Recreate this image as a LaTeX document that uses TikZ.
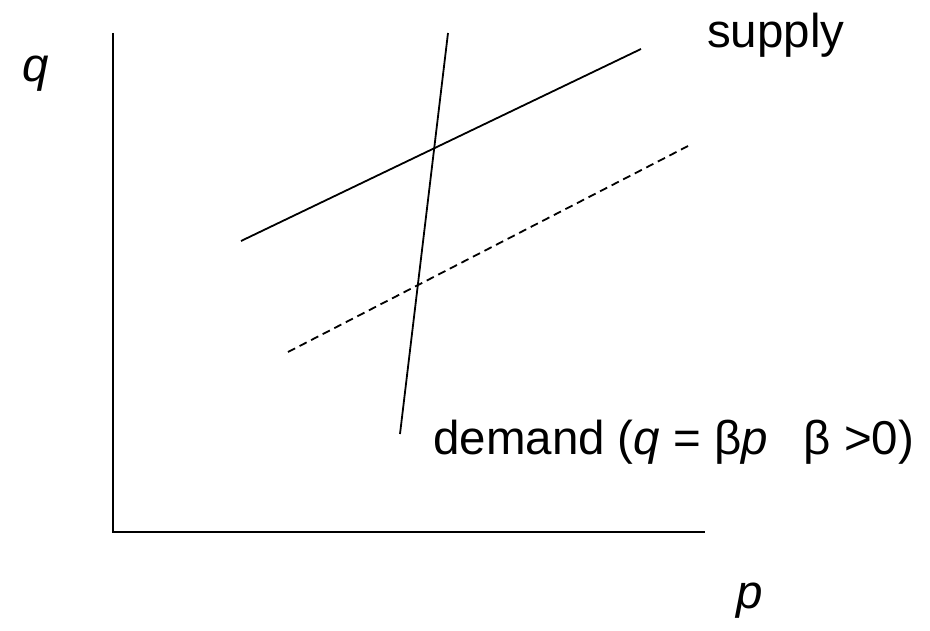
\documentclass[tikz,border=0pt]{standalone}
\usepackage{fontspec}
\setmainfont{Liberation Sans}
\usetikzlibrary{arrows.meta}

\begin{document}
\begin{tikzpicture}[x=1pt,y=-1pt]
  \useasboundingbox (0,0) rectangle (930,631);
  \tikzset{lbl/.style={font=\fontsize{47.5}{52}\selectfont,inner sep=0pt}}
  % axes
  \coordinate (top) at (113,33);
  \coordinate (O) at (113,532);
  \coordinate (right) at (705,532);
  \draw[line width=1.8pt] (top) -- (O) -- (right);
  \node[lbl,anchor=base] (qlab) at (36,82){\textit{q}};
  \node[lbl,anchor=base] (plab) at (750,608){\textit{p}};
  % supply, shifted supply, demand
  \coordinate (s1) at (241,241);
  \coordinate (s2) at (641,49);
  \coordinate (d1) at (288,352);
  \coordinate (d2) at (690,145);
  \coordinate (dm1) at (400,434);
  \coordinate (dm2) at (448,33);
  \draw[line width=1.8pt] (s1) -- (s2);
  \draw[line width=1.8pt,dash pattern=on 8pt off 5pt] (d1) -- (d2);
  \draw[line width=1.8pt] (dm1) -- (dm2);
  \node[lbl,anchor=base west] (slab) at (707,48){supply};
  \node[lbl,anchor=base west] (dlab) at (433,454){demand (\textit{q} = β\textit{p}\hspace{0.75em}β >0)};
\end{tikzpicture}
\end{document}
